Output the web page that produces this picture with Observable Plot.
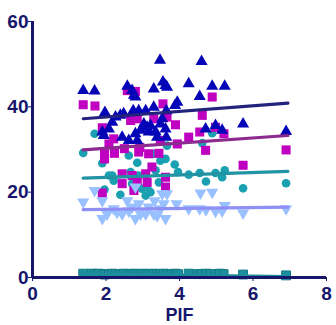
<!DOCTYPE html>
<html>
<head>
<meta charset="utf-8">
<script src="https://cdn.jsdelivr.net/npm/d3@7"></script>
<script src="https://cdn.jsdelivr.net/npm/@observablehq/plot@0.6"></script>
<style>
  html, body { margin: 0; padding: 0; background: #fff; }
  #chart { width: 336px; height: 325px; }
</style>
</head>
<body>
<div id="chart"></div>
<script>
// Series 1: dark blue up-triangles
const darkX = [1.38,1.69,1.97,1.90,1.94,2.08,2.17,2.26,2.39,2.48,2.44,2.58,2.62,2.71,2.76,2.80,2.74,2.80,2.85,2.89,2.94,3.03,3.08,3.12,3.16,3.21,3.30,3.30,3.35,3.39,3.47,3.48,3.53,3.55,3.62,3.66,3.62,3.64,3.64,3.88,3.94,4.25,4.55,4.60,4.71,4.89,4.98,5.16,5.23,5.73,6.90];
const darkY = [43.8,43.7,38.7,34.1,33.3,34.8,36.4,37.6,38.0,38.4,32.9,44.8,32.1,43.8,42.7,42.3,39.1,33.7,32.1,39.1,34.5,36.0,39.1,35.2,34.1,35.6,39.9,44.2,34.1,32.9,50.9,36.0,37.2,45.8,45.0,44.6,34.8,32.9,39.1,40.3,41.1,45.4,42.4,50.6,34.8,44.8,35.6,34.5,44.8,36.0,34.2];

// Series 2: magenta squares
const magX = [1.38,1.70,1.90,1.90,1.96,1.96,2.08,2.21,2.23,2.44,2.44,2.50,2.58,2.67,2.71,2.76,2.80,2.85,2.85,2.89,2.92,3.08,3.12,3.16,3.25,3.30,3.44,3.48,3.55,3.62,3.62,3.66,3.89,3.94,4.25,4.55,4.62,4.71,4.89,4.98,5.21,5.73,6.90];
const magY = [40.5,40.2,35.1,19.8,29.0,27.8,31.3,32.5,29.1,24.3,22.0,30.2,43.8,36.8,23.9,20.4,43.6,37.2,22.7,29.4,30.5,24.3,22.3,29.0,25.9,37.2,29.1,32.1,40.7,23.5,21.2,37.6,35.8,31.3,32.9,34.1,38.0,29.8,42.3,35.2,33.7,26.3,29.9];

// Series 3: teal circles
const tealX = [1.38,1.69,1.90,1.96,2.08,2.17,2.21,2.39,2.62,2.67,2.71,2.76,2.85,2.89,2.98,3.08,3.12,3.21,3.30,3.35,3.44,3.48,3.62,3.66,3.87,3.96,4.25,4.55,4.62,4.72,4.89,4.98,5.16,5.23,5.73,6.90];
const tealY = [29.2,33.7,26.8,20.6,23.9,23.9,22.7,19.4,28.6,24.7,22.0,20.4,26.9,23.9,20.8,19.2,21.2,20.0,29.0,25.1,22.3,27.4,27.8,30.9,26.5,24.7,24.1,24.5,31.5,22.5,33.8,24.5,23.5,25.1,20.9,22.1];

// Series 4: light blue down-triangles
const lightX = [1.38,1.69,1.90,1.90,2.03,2.21,2.30,2.44,2.58,2.62,2.71,2.80,2.80,2.89,2.94,3.08,3.16,3.30,3.32,3.39,3.48,3.53,3.57,3.62,3.66,3.92,4.25,4.57,4.55,4.72,4.89,4.98,5.16,5.23,5.73,6.90];
const lightY = [17.7,20.4,18.0,13.8,14.9,16.1,15.3,14.9,18.0,15.6,16.5,21.2,13.8,17.3,14.9,14.9,16.5,14.9,18.0,14.5,16.1,19.6,17.3,13.8,19.6,17.3,16.1,19.8,16.1,15.9,20.0,15.5,15.6,16.9,15.1,16.1];

// Series 5: teal squares near zero
const zeroX = [1.38,1.62,1.69,1.80,1.90,1.97,2.08,2.17,2.26,2.39,2.48,2.58,2.67,2.76,2.85,2.94,3.03,3.12,3.21,3.30,3.39,3.48,3.57,3.66,3.78,3.88,3.96,4.25,4.50,4.60,4.72,4.85,4.98,5.10,5.20,5.73,6.90];
const zeroY = [0.9,0.9,0.8,0.9,0.8,0.7,0.8,0.9,0.8,0.8,0.9,0.8,0.8,0.9,0.8,0.8,0.9,0.8,0.8,0.9,0.8,0.8,0.9,0.8,0.8,0.9,0.8,0.9,0.8,0.8,0.9,0.8,0.8,0.9,0.8,0.7,0.5];

// Fitted regression lines
const fitNames = ["dark","mag","teal","light","zero"];
const fitIntercept = [36.3, 29.07, 22.9, 15.75, 1.01];
const fitSlope = [0.66, 0.605, 0.285, 0.107, -0.112];
const fitRange = [1.38, 6.95];
const fitColors = ["#23237e","#8c2a90","#2293a3","#8f8ff5","#1d8d9c"];

// Axis ticks
const xTicks = [0,2,4,6,8];
const yTicks = [0,20,40,60];
const xLabel = "PIF";

const navy = "#16166b";
const toPts = (xs, ys) => xs.map((x, i) => ({x, y: ys[i]}));

const fitLines = fitNames.flatMap((n, i) => fitRange.map(x => ({series: n, x, y: fitIntercept[i] + fitSlope[i] * x, color: fitColors[i]})));

const chart = Plot.plot({
  width: 336,
  height: 325,
  marginLeft: 32,
  marginRight: 10,
  marginTop: 21,
  marginBottom: 48,
  style: {fontFamily: "'Liberation Sans Narrow', 'Liberation Sans', Arial, sans-serif", fontWeight: "bold", color: navy, background: "#fff", overflow: "visible"},
  x: {domain: [0, 8]},
  y: {domain: [0, 60]},
  marks: [
    Plot.dot(toPts(zeroX, zeroY), {x: "x", y: "y", symbol: "square", r: 5.0, fill: "#1c8f9e", stroke: "#167a88", strokeWidth: 1, strokeLinejoin: "round"}),
    Plot.dot(toPts(tealX, tealY), {x: "x", y: "y", symbol: "circle", r: 4.3, fill: "#1aa0b0"}),
    Plot.dot(toPts(magX, magY), {x: "x", y: "y", symbol: "square", r: 5.1, fill: "#c000c0"}),
    Plot.dot(toPts(lightX, lightY), {x: "x", y: "y", symbol: "triangle", rotate: 180, r: 4.5, fill: "#99c0ff"}),
    Plot.dot(toPts(darkX, darkY), {x: "x", y: "y", symbol: "triangle", r: 4.5, fill: "#0505b8"}),
    Plot.line(fitLines, {x: "x", y: "y", z: "series", stroke: "color", strokeWidth: 3.2}),
    Plot.ruleX([0], {y1: 0, y2: 60, stroke: navy, strokeWidth: 3}),
    Plot.ruleY([0], {x1: 0, x2: 8, stroke: navy, strokeWidth: 3}),
    Plot.axisX({ticks: xTicks, tickSize: 4, tickPadding: 5, fontSize: 19, label: null}),
    Plot.axisY({ticks: yTicks, tickSize: 4, tickPadding: 0, fontSize: 19, label: null}),
    Plot.text([xLabel], {frameAnchor: "bottom", dy: 43, fontSize: 18, fontWeight: "bold", fill: navy})
  ]
});
document.getElementById("chart").appendChild(chart);
</script>
</body>
</html>
